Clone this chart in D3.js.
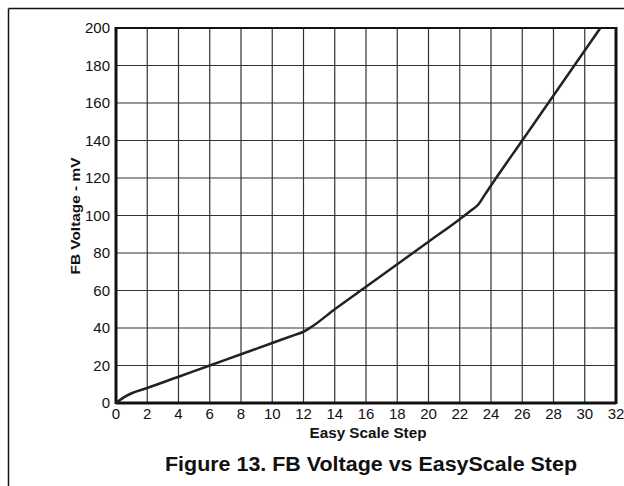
<!DOCTYPE html>
<html>
<head>
<meta charset="utf-8">
<script src="https://cdn.jsdelivr.net/npm/d3@7"></script>
<style>
  body { margin: 0; background: #fff; }
  text { font-family: "Liberation Sans", Arial, sans-serif; fill: #111; }
</style>
</head>
<body>
<svg id="chart" width="624" height="486"></svg>
<script>
// easy scale step vs FB voltage (mV)
var steps = [0, 0.5, 1, 2, 4, 6, 8, 10, 11.5, 12, 12.5, 14, 16, 18, 20, 22, 22.7, 23.2, 23.6, 24, 26, 28, 30, 31];
var fbVolt = [0, 3, 5.2, 8, 14, 20, 26, 32, 36.5, 38, 40.5, 50, 62, 74, 86, 98, 102.5, 106, 111, 116, 140, 164, 188, 200];
var xTicks = d3.range(0, 33, 2);
var yTicks = d3.range(0, 201, 20);
var xLabel = "Easy Scale Step";
var yLabel = "FB Voltage - mV";
var title = "Figure 13. FB Voltage vs EasyScale Step";

var svg = d3.select("#chart");
var pLeft = 116, pRight = 616, pTop = 28, pBottom = 403;

var x = d3.scaleLinear().domain([0, 32]).range([pLeft, pRight]);
var y = d3.scaleLinear().domain([0, 200]).range([pBottom, pTop]);

// outer frame (only left/top visible)
svg.append("line").attr("x1", 8.5).attr("x2", 624).attr("y1", 8.5).attr("y2", 8.5)
  .attr("stroke", "#111").attr("stroke-width", 1.5);
svg.append("line").attr("x1", 8.5).attr("x2", 8.5).attr("y1", 8.5).attr("y2", 486)
  .attr("stroke", "#111").attr("stroke-width", 1.5);

// grid
svg.append("g").selectAll("line").data(xTicks.slice(1, -1)).join("line")
  .attr("x1", d => x(d)).attr("x2", d => x(d)).attr("y1", pTop).attr("y2", pBottom)
  .attr("stroke", "#333").attr("stroke-width", 1.2);
svg.append("g").selectAll("line").data(yTicks.slice(1, -1)).join("line")
  .attr("x1", pLeft).attr("x2", pRight).attr("y1", d => y(d)).attr("y2", d => y(d))
  .attr("stroke", "#333").attr("stroke-width", 1.2);

// plot frame
svg.append("line").attr("x1", pLeft).attr("x2", pRight).attr("y1", pTop).attr("y2", pTop)
  .attr("stroke", "#111").attr("stroke-width", 2);
svg.append("line").attr("x1", pLeft).attr("x2", pLeft).attr("y1", pTop - 1).attr("y2", pBottom + 1)
  .attr("stroke", "#111").attr("stroke-width", 3);
svg.append("line").attr("x1", pRight).attr("x2", pRight).attr("y1", pTop - 1).attr("y2", pBottom + 1)
  .attr("stroke", "#111").attr("stroke-width", 3);
svg.append("line").attr("x1", pLeft).attr("x2", pRight).attr("y1", pBottom).attr("y2", pBottom)
  .attr("stroke", "#111").attr("stroke-width", 3);

// tick labels
svg.append("g").selectAll("text").data(yTicks).join("text")
  .attr("x", pLeft - 6).attr("y", d => y(d)).attr("dy", "0.36em")
  .attr("text-anchor", "end").attr("font-size", 15).text(d => d);
svg.append("g").selectAll("text").data(xTicks).join("text")
  .attr("x", d => x(d)).attr("y", pBottom + 16)
  .attr("text-anchor", "middle").attr("font-size", 15).text(d => d);

// axis titles
svg.append("text").attr("x", 368).attr("y", 438).attr("text-anchor", "middle")
  .attr("font-size", 14).attr("font-weight", "bold")
  .attr("textLength", 117).attr("lengthAdjust", "spacingAndGlyphs").text(xLabel);
svg.append("text").attr("transform", "translate(80,216) rotate(-90)")
  .attr("text-anchor", "middle").attr("font-size", 13).attr("font-weight", "bold")
  .attr("textLength", 117).attr("lengthAdjust", "spacingAndGlyphs").text(yLabel);

// figure caption
svg.append("text").attr("x", 371).attr("y", 471).attr("text-anchor", "middle")
  .attr("font-size", 20).attr("font-weight", "bold")
  .attr("textLength", 412).attr("lengthAdjust", "spacingAndGlyphs").text(title);

// curve
var pts = steps.map((s, i) => [s, fbVolt[i]]);
svg.append("path").datum(pts)
  .attr("fill", "none").attr("stroke", "#222").attr("stroke-width", 2.5)
  .attr("d", d3.line().x(d => x(d[0])).y(d => y(d[1])).curve(d3.curveMonotoneX));
</script>
</body>
</html>
